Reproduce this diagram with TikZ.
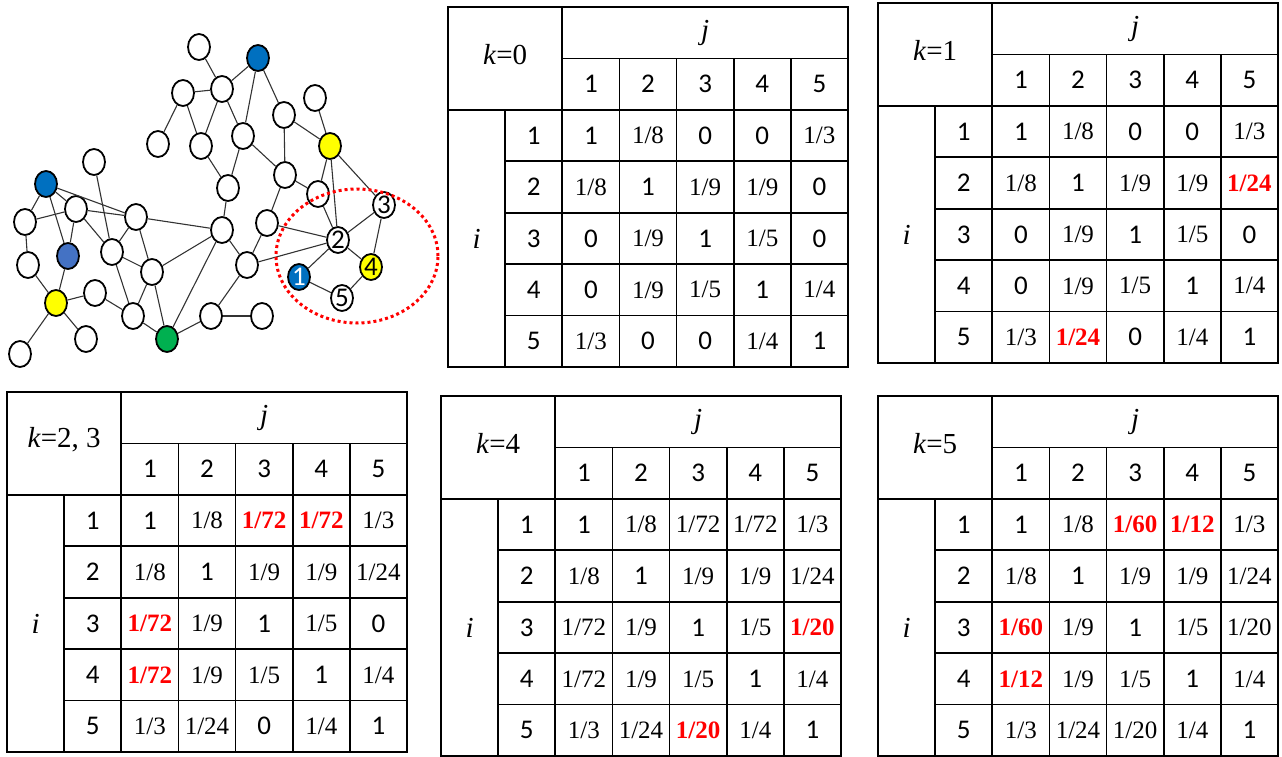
\documentclass[tikz,border=0pt]{standalone}
\usepackage{fontspec}
\setmainfont{Liberation Serif}
\setsansfont{Carlito}
\usetikzlibrary{shapes.geometric}
\definecolor{nodeblue}{HTML}{0070C0}
\definecolor{softblue}{HTML}{4472C4}
\definecolor{mark}{HTML}{FFFF00}
\definecolor{hub}{HTML}{00B050}
\definecolor{hit}{HTML}{FF0000}
\newcommand{\cw}{57.14}
\newcommand{\rh}{51.43}
\newcommand{\sv}[1]{{\sffamily\fontsize{27}{27}\selectfont #1}}
\newcommand{\fv}[1]{{\fontsize{25}{25}\selectfont #1}}
\newcommand{\hv}[1]{{\fontsize{25}{25}\selectfont\bfseries\textcolor{hit}{#1}}}
\tikzset{
  vtx/.style={ellipse,draw,line width=1.8pt,fill=white,minimum width=22pt,minimum height=26pt,
    inner sep=0pt,font=\sffamily\fontsize{27}{27}\selectfont},
  bluev/.style={vtx,fill=nodeblue},
  softv/.style={vtx,fill=softblue},
  yelv/.style={vtx,fill=mark},
  hubv/.style={vtx,fill=hub},
  link/.style={draw=black!80,line width=1.1pt},
  zone/.style={ellipse,draw=hit,line width=3pt,dash pattern=on 3pt off 3pt,
    minimum width=162pt,minimum height=134pt},
  grid/.style={line width=1.8pt},
  hd/.style={inner sep=0pt,font=\fontsize{29}{29}\selectfont},
  idx/.style={inner sep=0pt,font=\sffamily\fontsize{27}{27}\selectfont},
  cell/.style={inner sep=0pt},
}
\newcommand{\disttable}[5]{%
\begin{scope}[shift={(#1,#2)}]
  \draw[grid] (0,0) rectangle (7*\cw,7*\rh);
  \draw[grid] (2*\cw,\rh) -- (7*\cw,\rh);
  \draw[grid] (0,2*\rh) -- (7*\cw,2*\rh);
  \foreach \nn in {3,...,6} \draw[grid] (\cw,\nn*\rh) -- (7*\cw,\nn*\rh);
  \draw[grid] (\cw,2*\rh) -- (\cw,7*\rh);
  \draw[grid] (2*\cw,0) -- (2*\cw,7*\rh);
  \foreach \nn in {3,...,6} \draw[grid] (\nn*\cw,\rh) -- (\nn*\cw,7*\rh);
  \node[hd] (#3-k) at (\cw,\rh-4) {#4};
  \node[hd] (#3-j) at (4.5*\cw,0.5*\rh) {\textit{j}};
  \node[hd] (#3-i) at (0.5*\cw,4.5*\rh) {\textit{i}};
  \foreach \nn in {1,...,5} {
    \node[idx] (#3-c\nn) at (\nn*\cw+1.5*\cw,1.5*\rh) {\nn};
    \node[idx] (#3-r\nn) at (1.5*\cw,\nn*\rh+1.5*\rh) {\nn};
  }
  \foreach \row [count=\ri] in {#5}
    \foreach \v [count=\ci] in \row
      \node[cell] (#3-\ri-\ci) at (\ci*\cw+1.5*\cw,\ri*\rh+1.5*\rh) {\v};
\end{scope}}

\begin{document}
\begin{tikzpicture}[x=1pt,y=-1pt]
\useasboundingbox (0,0) rectangle (1282,757);
% network
\node[vtx] (g1) at (199,47) {};
\node[bluev] (g2) at (258,58) {};
\node[vtx] (g3) at (183,93) {};
\node[vtx] (g4) at (222,89) {};
\node[vtx] (g5) at (315,98) {};
\node[vtx] (g6) at (158,144) {};
\node[vtx] (g7) at (201,146) {};
\node[vtx] (g8) at (243,136) {};
\node[vtx] (g9) at (284,115) {};
\node[yelv] (g10) at (330,146) {};
\node[vtx] (g11) at (94,162) {};
\node[bluev] (g12) at (46,184) {};
\node[vtx] (g13) at (228,188) {};
\node[vtx] (g14) at (285,175) {};
\node[vtx] (g15) at (318,194) {};
\node[vtx] (g16) at (76,209) {};
\node[vtx] (g17) at (136,217) {};
\node[vtx] (g18) at (267,223) {};
\node[vtx] (g19) at (25,222) {};
\node[softv] (g20) at (68,256) {};
\node[vtx] (g21) at (112,252) {};
\node[vtx] (g22) at (222,230) {};
\node[vtx] (g23) at (152,272) {};
\node[vtx] (g24) at (28,265) {};
\node[vtx] (g25) at (247,265) {};
\node[yelv] (g26) at (56,303) {};
\node[vtx] (g27) at (95,293) {};
\node[vtx] (g28) at (133,316) {};
\node[vtx] (g29) at (211,316) {};
\node[vtx] (g30) at (262,316) {};
\node[hubv] (g31) at (167,339) {};
\node[vtx] (g32) at (20,354) {};
\node[vtx] (g33) at (86,339) {};
\node[bluev,text=white] (c1) at (299,277) {1};
\node[vtx] (c2) at (338,240) {2};
\node[vtx] (c3) at (384,205) {3};
\node[yelv] (c4) at (371,267) {4};
\node[vtx] (c5) at (342,298) {5};
\foreach \a/\b in {g1/g4,g4/g3,g4/g2,g3/g6,g3/g7,g4/g7,g4/g8,g2/g8,g2/g9,g7/g13,
  g8/g13,g8/g14,g9/g14,g9/g10,g5/g10,g10/g15,g10/c2,g10/c3,g14/g15,g14/g18,
  g13/g22,g15/c2,g18/c2,g18/g25,g22/g25,g22/g31,g22/g23,g17/g22,g25/c2,g25/g29,
  g29/g30,g29/g31,g11/g21,g12/g19,g12/g16,g12/g17,g12/g20,g19/g16,g16/g20,g16/g17,
  g16/g21,g17/g21,g17/g23,g21/g23,g21/g28,g23/g28,g23/g31,g28/g31,g27/g28,g19/g24,
  g24/g26,g20/g26,g26/g27,g26/g33,g26/g32,c2/c3,c2/c4,c2/c1,c3/c4,c4/c5,c1/c5}
  \draw[link] (\a) -- (\b);
\node[zone] (focus) at (357,256) {};
% tables
\disttable{448}{7}{t0}{\textit{k}=0}{
  {\sv{1},\fv{1/8},\sv{0},\sv{0},\fv{1/3}},
  {\fv{1/8},\sv{1},\fv{1/9},\fv{1/9},\sv{0}},
  {\sv{0},\fv{1/9},\sv{1},\fv{1/5},\sv{0}},
  {\sv{0},\fv{1/9},\fv{1/5},\sv{1},\fv{1/4}},
  {\fv{1/3},\sv{0},\sv{0},\fv{1/4},\sv{1}}}
\disttable{878}{3}{t1}{\textit{k}=1}{
  {\sv{1},\fv{1/8},\sv{0},\sv{0},\fv{1/3}},
  {\fv{1/8},\sv{1},\fv{1/9},\fv{1/9},\hv{1/24}},
  {\sv{0},\fv{1/9},\sv{1},\fv{1/5},\sv{0}},
  {\sv{0},\fv{1/9},\fv{1/5},\sv{1},\fv{1/4}},
  {\fv{1/3},\hv{1/24},\sv{0},\fv{1/4},\sv{1}}}
\disttable{7}{392}{t2}{\textit{k}=2, 3}{
  {\sv{1},\fv{1/8},\hv{1/72},\hv{1/72},\fv{1/3}},
  {\fv{1/8},\sv{1},\fv{1/9},\fv{1/9},\fv{1/24}},
  {\hv{1/72},\fv{1/9},\sv{1},\fv{1/5},\sv{0}},
  {\hv{1/72},\fv{1/9},\fv{1/5},\sv{1},\fv{1/4}},
  {\fv{1/3},\fv{1/24},\sv{0},\fv{1/4},\sv{1}}}
\disttable{441}{396}{t3}{\textit{k}=4}{
  {\sv{1},\fv{1/8},\fv{1/72},\fv{1/72},\fv{1/3}},
  {\fv{1/8},\sv{1},\fv{1/9},\fv{1/9},\fv{1/24}},
  {\fv{1/72},\fv{1/9},\sv{1},\fv{1/5},\hv{1/20}},
  {\fv{1/72},\fv{1/9},\fv{1/5},\sv{1},\fv{1/4}},
  {\fv{1/3},\fv{1/24},\hv{1/20},\fv{1/4},\sv{1}}}
\disttable{878}{396}{t4}{\textit{k}=5}{
  {\sv{1},\fv{1/8},\hv{1/60},\hv{1/12},\fv{1/3}},
  {\fv{1/8},\sv{1},\fv{1/9},\fv{1/9},\fv{1/24}},
  {\hv{1/60},\fv{1/9},\sv{1},\fv{1/5},\fv{1/20}},
  {\hv{1/12},\fv{1/9},\fv{1/5},\sv{1},\fv{1/4}},
  {\fv{1/3},\fv{1/24},\fv{1/20},\fv{1/4},\sv{1}}}
\end{tikzpicture}
\end{document}
